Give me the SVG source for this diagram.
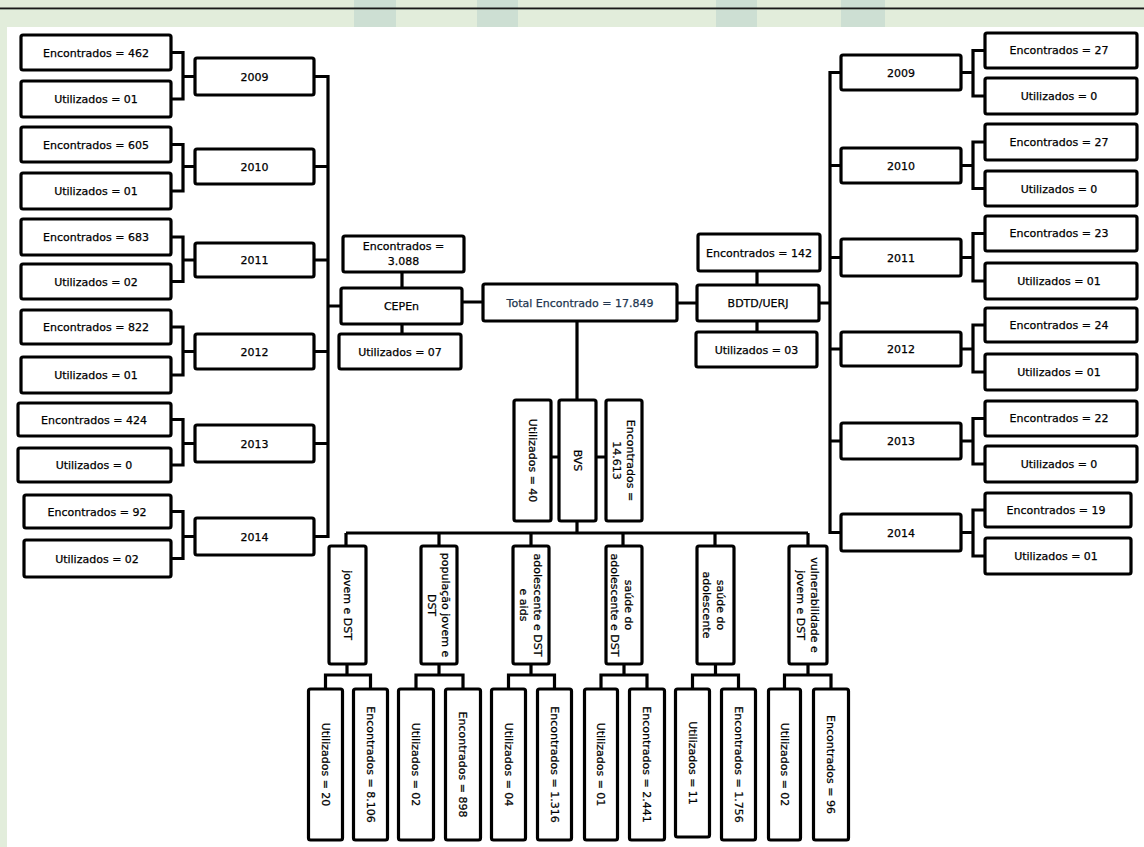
<svg xmlns="http://www.w3.org/2000/svg" width="1144" height="847" viewBox="0 0 1144 847">
<style>
.b{fill:#fff;stroke:#000;stroke-width:3.2;}
.t{font-family:"DejaVu Sans",sans-serif;font-size:11px;fill:#000;stroke:#000;stroke-width:0.25;text-anchor:middle;}
.c{fill:none;stroke:#000;stroke-width:3.2;}
.band{fill:#cddfd3;}
</style>
<rect x="0" y="0" width="1144" height="847" fill="#e2eddb"/>
<rect class="band" x="354" y="0" width="42" height="27"/>
<rect class="band" x="477" y="0" width="41" height="27"/>
<rect class="band" x="716" y="0" width="41" height="27"/>
<rect class="band" x="841" y="0" width="44" height="27"/>
<rect x="0" y="7.5" width="1144" height="1.6" fill="#1a1a1a"/>
<rect x="0" y="9.1" width="1144" height="0.8" fill="#8a968a"/>
<rect x="7" y="27" width="1137" height="820" fill="#fff"/>

<g id="connectors">
<path class="c" d="M171 52.5H183V99H171M183 76.5H195"/>
<path class="c" d="M171 144.5H183V191H171M183 166.5H195"/>
<path class="c" d="M171 237H183V281.5H171M183 260H195"/>
<path class="c" d="M171 327H183V375H171M183 351.5H195"/>
<path class="c" d="M171 419.5H183V465H171M183 443.5H195"/>
<path class="c" d="M171 511.5H183V558.5H171M183 536.5H195"/>
<path class="c" d="M314 76.5H328V536.5H314M314 166.5H328M314 260H328M314 351.5H328M314 443.5H328M328 306H341"/>
<path class="c" d="M402 272V288M402 324V334M462 302H483M677 303H697M757 271V285M757 321V332M819 303H830"/>
<path class="c" d="M841 72.5H830V532.5H841M830 165.5H841M830 257.5H841M830 349H841M830 441H841"/>
<path class="c" d="M961 72.5H973M985 50.5H973V96H985"/>
<path class="c" d="M961 165.5H973M985 142H973V188.5H985"/>
<path class="c" d="M961 257.5H973M985 233.5H973V281H985"/>
<path class="c" d="M961 349H973M985 325H973V372H985"/>
<path class="c" d="M961 441H973M985 418.5H973V464H985"/>
<path class="c" d="M961 532.5H973M985 510H973V556H985"/>
<path class="c" d="M577 321V400M551 457H559M596 457H606M577 521V533M346 533H808M346 533V546M439 533V546M531 533V546M623 533V546M715 533V546M808 533V546"/>
<path class="c" d="M347 664V675M325.5 689V675H370.5V689"/>
<path class="c" d="M439 664V675M416 689V675H463V689"/>
<path class="c" d="M531 664V675M508.5 689V675H554.5V689"/>
<path class="c" d="M624 664V675M601 689V675H647V689"/>
<path class="c" d="M715.5 664V675M692.5 689V675H738.5V689"/>
<path class="c" d="M808 664V675M784.5 689V675H831V689"/>
</g>

<!-- Left column -->
<g id="l-enc-2009"><rect class="b" x="21" y="35" width="150" height="35" rx="2"/><text class="t" x="96" y="56.5">Encontrados = 462</text></g>
<g id="l-uti-2009"><rect class="b" x="21" y="81" width="150" height="36" rx="2"/><text class="t" x="96" y="103">Utilizados = 01</text></g>
<g id="l-enc-2010"><rect class="b" x="21" y="127" width="150" height="35" rx="2"/><text class="t" x="96" y="148.5">Encontrados = 605</text></g>
<g id="l-uti-2010"><rect class="b" x="21" y="173" width="150" height="36" rx="2"/><text class="t" x="96" y="195">Utilizados = 01</text></g>
<g id="l-enc-2011"><rect class="b" x="21" y="219" width="150" height="36" rx="2"/><text class="t" x="96" y="241">Encontrados = 683</text></g>
<g id="l-uti-2011"><rect class="b" x="21" y="264" width="150" height="35" rx="2"/><text class="t" x="96" y="285.5">Utilizados = 02</text></g>
<g id="l-enc-2012"><rect class="b" x="21" y="310" width="150" height="34" rx="2"/><text class="t" x="96" y="331">Encontrados = 822</text></g>
<g id="l-uti-2012"><rect class="b" x="21" y="357" width="150" height="36" rx="2"/><text class="t" x="96" y="379">Utilizados = 01</text></g>
<g id="l-enc-2013"><rect class="b" x="18" y="403" width="153" height="33" rx="2"/><text class="t" x="94" y="423.5">Encontrados = 424</text></g>
<g id="l-uti-2013"><rect class="b" x="18" y="448" width="153" height="34" rx="2"/><text class="t" x="94" y="469">Utilizados = 0</text></g>
<g id="l-enc-2014"><rect class="b" x="24" y="495" width="147" height="33" rx="2"/><text class="t" x="97" y="515.5">Encontrados = 92</text></g>
<g id="l-uti-2014"><rect class="b" x="24" y="540" width="147" height="37" rx="2"/><text class="t" x="97" y="562.5">Utilizados = 02</text></g>

<g id="l-2009"><rect class="b" x="195" y="58" width="119" height="37" rx="2"/><text class="t" x="254.5" y="80.5">2009</text></g>
<g id="l-2010"><rect class="b" x="195" y="149" width="119" height="35" rx="2"/><text class="t" x="254.5" y="170.5">2010</text></g>
<g id="l-2011"><rect class="b" x="195" y="243" width="119" height="34" rx="2"/><text class="t" x="254.5" y="264">2011</text></g>
<g id="l-2012"><rect class="b" x="195" y="334" width="119" height="35" rx="2"/><text class="t" x="254.5" y="355.5">2012</text></g>
<g id="l-2013"><rect class="b" x="195" y="425" width="119" height="37" rx="2"/><text class="t" x="254.5" y="447.5">2013</text></g>
<g id="l-2014"><rect class="b" x="195" y="518" width="119" height="37" rx="2"/><text class="t" x="254.5" y="540.5">2014</text></g>

<!-- Center -->
<g id="cepen-enc"><rect class="b" x="343" y="236" width="121" height="36" rx="2"/><text class="t" x="403.5" y="250">Encontrados =</text><text class="t" x="403.5" y="265">3.088</text></g>
<g id="cepen"><rect class="b" x="341" y="288" width="121" height="36" rx="2"/><text class="t" x="401.5" y="310">CEPEn</text></g>
<g id="cepen-uti"><rect class="b" x="339" y="334" width="122" height="35" rx="2"/><text class="t" x="400" y="355.5">Utilizados = 07</text></g>
<g id="total"><rect class="b" x="483" y="284" width="194" height="37" rx="2"/><text class="t" x="580" y="306.5" style="fill:#22364f;stroke:#22364f">Total Encontrado  = 17.849</text></g>
<g id="bdtd-enc"><rect class="b" x="698" y="234" width="122" height="37" rx="2"/><text class="t" x="759" y="256.5">Encontrados = 142</text></g>
<g id="bdtd"><rect class="b" x="697" y="285" width="122" height="36" rx="2"/><text class="t" x="758" y="307">BDTD/UERJ</text></g>
<g id="bdtd-uti"><rect class="b" x="696" y="332" width="121" height="35" rx="2"/><text class="t" x="756.5" y="353.5">Utilizados = 03</text></g>

<!-- Right column -->
<g id="r-2009"><rect class="b" x="841" y="55" width="120" height="35" rx="2"/><text class="t" x="901" y="76.5">2009</text></g>
<g id="r-2010"><rect class="b" x="841" y="148" width="120" height="35" rx="2"/><text class="t" x="901" y="169.5">2010</text></g>
<g id="r-2011"><rect class="b" x="841" y="239" width="120" height="37" rx="2"/><text class="t" x="901" y="261.5">2011</text></g>
<g id="r-2012"><rect class="b" x="841" y="332" width="120" height="34" rx="2"/><text class="t" x="901" y="353">2012</text></g>
<g id="r-2013"><rect class="b" x="841" y="423" width="120" height="36" rx="2"/><text class="t" x="901" y="445">2013</text></g>
<g id="r-2014"><rect class="b" x="841" y="514" width="120" height="37" rx="2"/><text class="t" x="901" y="536.5">2014</text></g>

<g id="r-enc-2009"><rect class="b" x="985" y="33" width="152" height="35" rx="2"/><text class="t" x="1059" y="54">Encontrados = 27</text></g>
<g id="r-uti-2009"><rect class="b" x="985" y="78" width="152" height="36" rx="2"/><text class="t" x="1059" y="100">Utilizados = 0</text></g>
<g id="r-enc-2010"><rect class="b" x="985" y="124" width="152" height="36" rx="2"/><text class="t" x="1059" y="145.5">Encontrados = 27</text></g>
<g id="r-uti-2010"><rect class="b" x="985" y="171" width="152" height="35" rx="2"/><text class="t" x="1059" y="192.5">Utilizados = 0</text></g>
<g id="r-enc-2011"><rect class="b" x="985" y="216" width="152" height="35" rx="2"/><text class="t" x="1059" y="237">Encontrados = 23</text></g>
<g id="r-uti-2011"><rect class="b" x="985" y="263" width="152" height="36" rx="2"/><text class="t" x="1059" y="285">Utilizados = 01</text></g>
<g id="r-enc-2012"><rect class="b" x="985" y="308" width="152" height="34" rx="2"/><text class="t" x="1059" y="328.5">Encontrados = 24</text></g>
<g id="r-uti-2012"><rect class="b" x="985" y="354" width="152" height="36" rx="2"/><text class="t" x="1059" y="376">Utilizados = 01</text></g>
<g id="r-enc-2013"><rect class="b" x="985" y="401" width="152" height="35" rx="2"/><text class="t" x="1059" y="422">Encontrados = 22</text></g>
<g id="r-uti-2013"><rect class="b" x="985" y="446" width="152" height="36" rx="2"/><text class="t" x="1059" y="468">Utilizados = 0</text></g>
<g id="r-enc-2014"><rect class="b" x="985" y="493" width="146" height="34" rx="2"/><text class="t" x="1056" y="513.5">Encontrados = 19</text></g>
<g id="r-uti-2014"><rect class="b" x="985" y="538" width="146" height="36" rx="2"/><text class="t" x="1056" y="560">Utilizados = 01</text></g>

<!-- BVS -->
<g id="bvs-uti"><rect class="b" x="514" y="400" width="37" height="121" rx="2"/><text class="t" transform="translate(532.5,460.5) rotate(90)" dy="0.35em">Utilizados = 40</text></g>
<g id="bvs"><rect class="b" x="559" y="400" width="37" height="121" rx="2"/><text class="t" transform="translate(577.5,460.5) rotate(90)" dy="0.35em">BVS</text></g>
<g id="bvs-enc"><rect class="b" x="606" y="400" width="36" height="121" rx="2"/><text class="t" transform="translate(624,460.5) rotate(90)"><tspan x="0" y="-3">Encontrados =</tspan><tspan x="0" y="11">14.613</tspan></text></g>

<!-- Themes -->
<g id="th1"><rect class="b" x="329" y="546" width="37" height="118" rx="2"/><text class="t" transform="translate(347.5,605) rotate(90)" dy="0.35em">jovem e DST</text></g>
<g id="th2"><rect class="b" x="421" y="546" width="36" height="118" rx="2"/><text class="t" transform="translate(439,605) rotate(90)"><tspan x="0" y="-3">população jovem e</tspan><tspan x="0" y="11">DST</tspan></text></g>
<g id="th3"><rect class="b" x="513" y="546" width="36" height="118" rx="2"/><text class="t" transform="translate(531,605) rotate(90)"><tspan x="0" y="-3">adolescente e DST</tspan><tspan x="0" y="11">e aids</tspan></text></g>
<g id="th4"><rect class="b" x="606" y="546" width="36" height="118" rx="2"/><text class="t" transform="translate(622,605) rotate(90)"><tspan x="0" y="-3">saúde do</tspan><tspan x="0" y="11">adolescente e DST</tspan></text></g>
<g id="th5"><rect class="b" x="697" y="546" width="37" height="118" rx="2"/><text class="t" transform="translate(714,605) rotate(90)"><tspan x="0" y="-3">saúde do</tspan><tspan x="0" y="11">adolescente</tspan></text></g>
<g id="th6"><rect class="b" x="789" y="546" width="38" height="118" rx="2"/><text class="t" transform="translate(808,605) rotate(90)"><tspan x="0" y="-3">vulnerabilidade e</tspan><tspan x="0" y="11">jovem e DST</tspan></text></g>

<!-- Leaves -->
<g id="lf1u"><rect class="b" x="308.5" y="689" width="34" height="151" rx="2"/><text class="t" transform="translate(325.5,764.5) rotate(90)" dy="0.35em">Utilizados = 20</text></g>
<g id="lf1e"><rect class="b" x="353.5" y="689" width="34" height="151" rx="2"/><text class="t" transform="translate(370.5,764.5) rotate(90)" dy="0.35em">Encontrados = 8.106</text></g>
<g id="lf2u"><rect class="b" x="398.5" y="689" width="35" height="151" rx="2"/><text class="t" transform="translate(416,764.5) rotate(90)" dy="0.35em">Utilizados = 02</text></g>
<g id="lf2e"><rect class="b" x="445.5" y="689" width="35" height="151" rx="2"/><text class="t" transform="translate(463,764.5) rotate(90)" dy="0.35em">Encontrados = 898</text></g>
<g id="lf3u"><rect class="b" x="491.5" y="689" width="34" height="151" rx="2"/><text class="t" transform="translate(508.5,764.5) rotate(90)" dy="0.35em">Utilizados = 04</text></g>
<g id="lf3e"><rect class="b" x="537.5" y="689" width="34" height="151" rx="2"/><text class="t" transform="translate(554.5,764.5) rotate(90)" dy="0.35em">Encontrados = 1.316</text></g>
<g id="lf4u"><rect class="b" x="584.5" y="689" width="33" height="151" rx="2"/><text class="t" transform="translate(601,764.5) rotate(90)" dy="0.35em">Utilizados = 01</text></g>
<g id="lf4e"><rect class="b" x="629.5" y="689" width="35" height="151" rx="2"/><text class="t" transform="translate(647,764.5) rotate(90)" dy="0.35em">Encontrados = 2.441</text></g>
<g id="lf5u"><rect class="b" x="675.5" y="689" width="34" height="148" rx="2"/><text class="t" transform="translate(692.5,763) rotate(90)" dy="0.35em">Utilizados =  11</text></g>
<g id="lf5e"><rect class="b" x="721.5" y="689" width="34" height="151" rx="2"/><text class="t" transform="translate(738.5,764.5) rotate(90)" dy="0.35em">Encontrados = 1.756</text></g>
<g id="lf6u"><rect class="b" x="768.5" y="689" width="32" height="151" rx="2"/><text class="t" transform="translate(784.5,764.5) rotate(90)" dy="0.35em">Utilizados = 02</text></g>
<g id="lf6e"><rect class="b" x="813.5" y="689" width="35" height="151" rx="2"/><text class="t" transform="translate(831,764.5) rotate(90)" dy="0.35em">Encontrados = 96</text></g>
</svg>
